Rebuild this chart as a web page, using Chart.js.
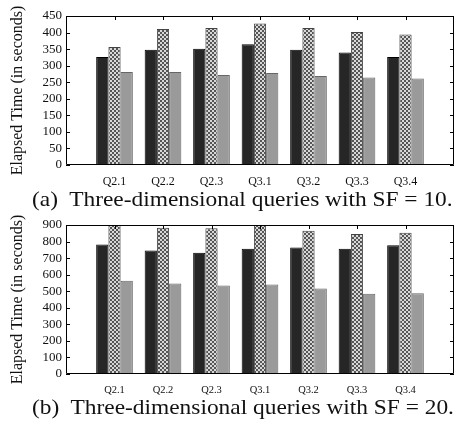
<!DOCTYPE html>
<html><head><meta charset="utf-8">
<script src="https://cdn.jsdelivr.net/npm/chart.js@4"></script>
<style>
html,body{margin:0;padding:0;background:#fff;width:459px;height:421px;overflow:hidden;}
.wrap{position:absolute;left:0;width:459px;height:190px;}
.cap{position:absolute;left:32px;font-family:"Liberation Serif","Times New Roman",serif;font-size:22px;color:#111;white-space:pre;line-height:22px;transform-origin:0 0;transform:scaleX(1.063);}
</style></head>
<body>
<div class="wrap" style="top:0"><canvas id="c1" width="459" height="190"></canvas></div>
<div class="cap" id="capA" style="top:188px">(a)  Three-dimensional queries with SF = 10.</div>
<div class="wrap" style="top:209px"><canvas id="c2" width="459" height="190"></canvas></div>
<div class="cap" id="capB" style="top:396px">(b)  Three-dimensional queries with SF = 20.</div>
<script>
const categories = ['', 'Q2.1', 'Q2.2', 'Q2.3', 'Q3.1', 'Q3.2', 'Q3.3', 'Q3.4', ''];
const sf10Black   = [null, 326, 348, 351, 365, 348, 340, 326, null];
const sf10Pattern = [null, 356, 411, 414, 427, 414, 402, 394, null];
const sf10Gray    = [null, 281, 281, 272, 278, 269, 264, 261, null];
const sf20Black   = [null, 782, 746, 732, 756, 764, 756, 777, null];
const sf20Pattern = [null, 905, 884, 880, 912, 866, 845, 853, null];
const sf20Gray    = [null, 564, 546, 534, 540, 516, 485, 487, null];
const yMax10 = 450, yStep10 = 50;
const yMax20 = 900, yStep20 = 100;
const yTitle = 'Elapsed Time (in seconds)';

function makePattern(){
  const c = document.createElement('canvas'); c.width = 4; c.height = 4;
  const g = c.getContext('2d');
  g.fillStyle = '#d8d8d8'; g.fillRect(0,0,4,4);
  g.fillStyle = '#555'; g.fillRect(0,0,2,2); g.fillRect(2,2,2,2);
  return g.createPattern(c, 'repeat');
}

const frame = {
  id: 'frame',
  afterDraw(chart){
    const {ctx, chartArea: a, scales} = chart;
    ctx.save();
    ctx.strokeStyle = '#000'; ctx.lineWidth = 1;
    ctx.beginPath();
    ctx.rect(Math.round(a.left) + 0.5, Math.round(a.top) + 0.5,
             Math.round(a.right - a.left) - 1, Math.round(a.bottom - a.top) - 1);
    ctx.stroke();
    ctx.beginPath();
    const y = scales.y;
    y.ticks.forEach((t, i) => {
      const py = Math.round(y.getPixelForTick(i)) + 0.5;
      ctx.moveTo(a.left, py); ctx.lineTo(a.left + 4, py);
      ctx.moveTo(a.right, py); ctx.lineTo(a.right - 4, py);
    });
    const x = scales.x;
    x.ticks.forEach((t, i) => {
      if (!categories[i]) return;
      const px = Math.round(x.getPixelForTick(i)) + 0.5;
      ctx.moveTo(px, a.top); ctx.lineTo(px, a.top + 4);
    });
    ctx.stroke();
    ctx.restore();
  }
};

function build(id, black, pattern, gray, yMax, yStep, xFont){
  const pat = makePattern();
  new Chart(document.getElementById(id), {
    type: 'bar',
    data: {
      labels: categories,
      datasets: [
        {data: black, backgroundColor: '#262626', borderColor: '#000', borderWidth: 1},
        {data: pattern, backgroundColor: pat, borderColor: '#444', borderWidth: 1},
        {data: gray, backgroundColor: '#9a9a9a', borderColor: '#666', borderWidth: 1}
      ]
    },
    options: {
      responsive: false, animation: false,
      datasets: {bar: {categoryPercentage: 0.756, barPercentage: 1}},
      layout: {padding: {top: 16, right: 5, left: 0, bottom: 0}},
      plugins: {legend: {display: false}, tooltip: {enabled: false}},
      scales: {
        x: {
          offset: false,
          grid: {display: false, drawTicks: false},
          border: {display: false},
          ticks: {color: '#111', padding: 10, maxRotation: 0, autoSkip: false,
                  font: {family: 'Liberation Serif', size: xFont}},
          afterFit(s){ s.height = 25; s.paddingLeft = 0; s.paddingRight = 0; }
        },
        y: {
          min: 0, max: yMax,
          grid: {display: false, drawTicks: false},
          border: {display: false},
          ticks: {stepSize: yStep, autoSkip: false, color: '#111', padding: 4,
                  font: {family: 'Liberation Serif', size: 13}},
          title: {display: true, text: yTitle, color: '#111', padding: {top: 8, bottom: 0},
                  font: {family: 'Liberation Serif', size: 16}},
          afterFit(s){ s.width = 66; s.paddingTop = 0; s.paddingBottom = 0; }
        }
      }
    },
    plugins: [frame]
  });
}
build('c1', sf10Black, sf10Pattern, sf10Gray, yMax10, yStep10, 12);
build('c2', sf20Black, sf20Pattern, sf20Gray, yMax20, yStep20, 10.5);
</script>
</body></html>
